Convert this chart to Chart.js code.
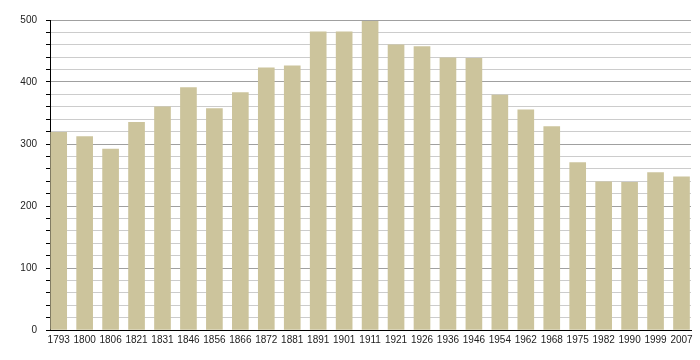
<!DOCTYPE html>
<html><head><meta charset="utf-8">
<script src="https://cdn.jsdelivr.net/npm/chart.js@4"></script>
<style>html,body{margin:0;padding:0;background:#fff}#wrap{width:700px;height:360px}</style>
</head><body><div id="wrap"><canvas id="c" width="700" height="360"></canvas></div>
<script>
const years = ["1793","1800","1806","1821","1831","1846","1856","1866","1872","1881","1891","1901","1911","1921","1926","1936","1946","1954","1962","1968","1975","1982","1990","1999","2007"];
const population = [319,312,292,335,360,391,357,383,423,426,481,481,498,460,457,439,438,379,355,328,270,239,238,254,247];
const yTicks = [0,100,200,300,400,500];

const points = years.map((y,i)=>({x:i,y:population[i]}));
new Chart(document.getElementById('c'),{
  type:'bar',
  data:{datasets:[{data:points,backgroundColor:'#ccc49c',borderWidth:0,barThickness:16}]},
  options:{
    responsive:false,animation:false,
    layout:{padding:{top:20,right:9,left:0,bottom:0}},
    plugins:{legend:{display:false},tooltip:{enabled:false}},
    scales:{
      x:{type:'linear',min:-0.335,max:24.366,offset:false,
        afterBuildTicks:s=>{s.ticks=years.map((y,i)=>({value:i}));},
        afterFit:s=>{s.height=30;},
        grid:{display:false,drawTicks:false,offset:false},
        border:{color:'#000',width:1},
        ticks:{autoSkip:false,maxRotation:0,padding:4,color:'#222',font:{family:'Liberation Sans',size:10},callback:v=>years[v]}
      },
      y:{min:0,max:500,
        afterBuildTicks:s=>{const t=[];for(let v=0;v<=500;v+=20)t.push({value:v});s.ticks=t;},
        afterFit:s=>{s.width=50;},
        border:{color:'#000',width:1},
        grid:{color:c=>c.tick&&c.tick.value%100===0?'#a0a0a0':'#cccccc',tickColor:'#000',tickLength:4,lineWidth:1},
        ticks:{autoSkip:false,padding:9,color:'#222',font:{family:'Liberation Sans',size:10},callback:v=>yTicks.includes(v)?String(v):''}
      }
    }
  }
});
</script></body></html>
